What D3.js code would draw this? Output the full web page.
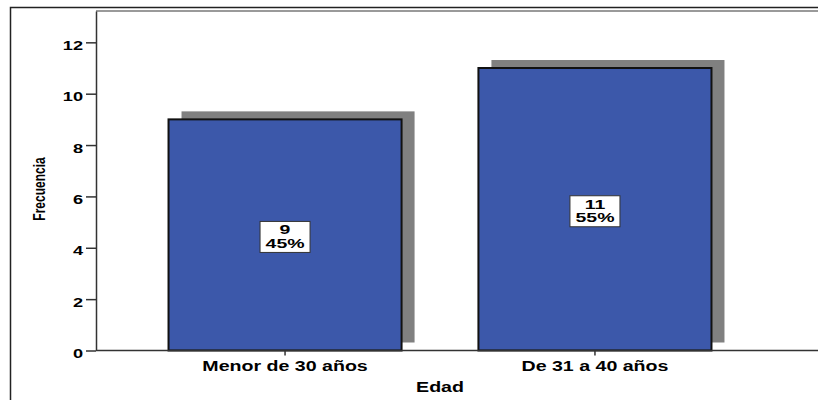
<!DOCTYPE html>
<html>
<head>
<meta charset="utf-8">
<script src="https://cdn.jsdelivr.net/npm/d3@7"></script>
<style>
  body { margin: 0; background: #fff; }
  svg text { font-family: "Liberation Sans", Arial, sans-serif; font-weight: bold; fill: #000; }
</style>
</head>
<body>
<div id="chart"></div>
<script>
var categories = ["Menor de 30 años", "De 31 a 40 años"],
    counts = [9, 11],
    yTicks = [0, 2, 4, 6, 8, 10, 12];

var total = d3.sum(counts),
    data = categories.map(function(c, i) {
      return {cat: c, count: counts[i], pct: Math.round(counts[i] / total * 100) + "%"};
    });

// the source picture is stretched sideways, so is the text
var sx = 1.4;

var margin = {top: 11, left: 96},
    width = 818 - margin.left,
    height = 350.5 - margin.top;

var svg = d3.select("#chart").append("svg")
    .attr("width", 818)
    .attr("height", 400);

// outer frame
svg.append("path")
    .attr("d", "M10.5,400V7.5H818")
    .attr("fill", "none")
    .attr("stroke", "#222")
    .attr("stroke-width", 1.5);

var g = svg.append("g")
    .attr("transform", "translate(" + margin.left + "," + margin.top + ")");

var x = d3.scaleBand()
    .domain(categories)
    .range([0, 688])
    .paddingInner(0.248)
    .paddingOuter(0.234);

var y = d3.scaleLinear()
    .domain([0, 13.22])
    .range([height, 0]);

// plot top border
g.append("line")
    .attr("x1", 0).attr("x2", width)
    .attr("y1", 0).attr("y2", 0)
    .attr("stroke", "#9a9a9a")
    .attr("stroke-width", 2);

// shadows
g.selectAll("rect.shadow")
    .data(data)
  .enter().append("rect")
    .attr("class", "shadow")
    .attr("x", function(d) { return x(d.cat) + 13; })
    .attr("y", function(d) { return y(d.count) - 8; })
    .attr("width", x.bandwidth())
    .attr("height", function(d) { return height - y(d.count); })
    .attr("fill", "#808080");

g.selectAll("rect.bar")
    .data(data)
  .enter().append("rect")
    .attr("class", "bar")
    .attr("x", function(d) { return x(d.cat); })
    .attr("y", function(d) { return y(d.count); })
    .attr("width", x.bandwidth())
    .attr("height", function(d) { return height - y(d.count); })
    .attr("fill", "#3c58aa")
    .attr("stroke", "#111")
    .attr("stroke-width", 2);

// value boxes
var boxes = g.selectAll("g.box")
    .data(data)
  .enter().append("g")
    .attr("class", "box")
    .attr("transform", function(d) {
      return "translate(" + (x(d.cat) + x.bandwidth() / 2) + "," + ((y(d.count) + height) / 2 + 2) + ")";
    });

boxes.append("rect")
    .attr("x", -25).attr("y", -15.5)
    .attr("width", 50).attr("height", 31)
    .attr("fill", "#fff")
    .attr("stroke", "#333")
    .attr("stroke-width", 1);

boxes.append("text")
    .attr("text-anchor", "middle")
    .attr("font-size", 13)
    .attr("transform", "translate(0,-2.5) scale(1.5,1)")
    .text(function(d) { return d.count; });

boxes.append("text")
    .attr("text-anchor", "middle")
    .attr("font-size", 13)
    .attr("transform", "translate(0,11) scale(1.5,1)")
    .text(function(d) { return d.pct; });

// y axis
var yAxis = d3.axisLeft(y)
    .tickValues(yTicks)
    .tickSize(10)
    .tickSizeOuter(0);

var ya = g.append("g").call(yAxis);
ya.select(".domain").attr("stroke", "#333").attr("stroke-width", 1.5);
ya.selectAll(".tick line").attr("stroke", "#333").attr("stroke-width", 1.5);
ya.selectAll(".tick text")
    .attr("x", 0).attr("dy", "0.55em")
    .attr("font-size", 13)
    .attr("transform", "translate(-13,0) scale(" + sx + ",1)");

// x axis
var xAxis = d3.axisBottom(x)
    .tickSize(5)
    .tickSizeOuter(0);

var xa = g.append("g")
    .attr("transform", "translate(0," + height + ")")
    .call(xAxis);
xa.select(".domain").remove();
xa.append("line")
    .attr("x1", 0).attr("x2", width)
    .attr("stroke", "#333").attr("stroke-width", 1.5);
xa.selectAll(".tick line").attr("stroke", "#333").attr("stroke-width", 1.5);
xa.selectAll(".tick text")
    .attr("y", 0).attr("dy", 0)
    .attr("font-size", 14)
    .attr("transform", "translate(0,20) scale(" + sx + ",1)");

// axis titles
svg.append("text")
    .attr("text-anchor", "middle")
    .attr("font-size", 14)
    .attr("transform", "translate(440,392) scale(" + sx + ",1)")
    .text("Edad");

svg.append("text")
    .attr("text-anchor", "middle")
    .attr("font-size", 12)
    .attr("transform", "translate(45,189) rotate(-90) scale(1," + sx + ")")
    .text("Frecuencia");
</script>
</body>
</html>
